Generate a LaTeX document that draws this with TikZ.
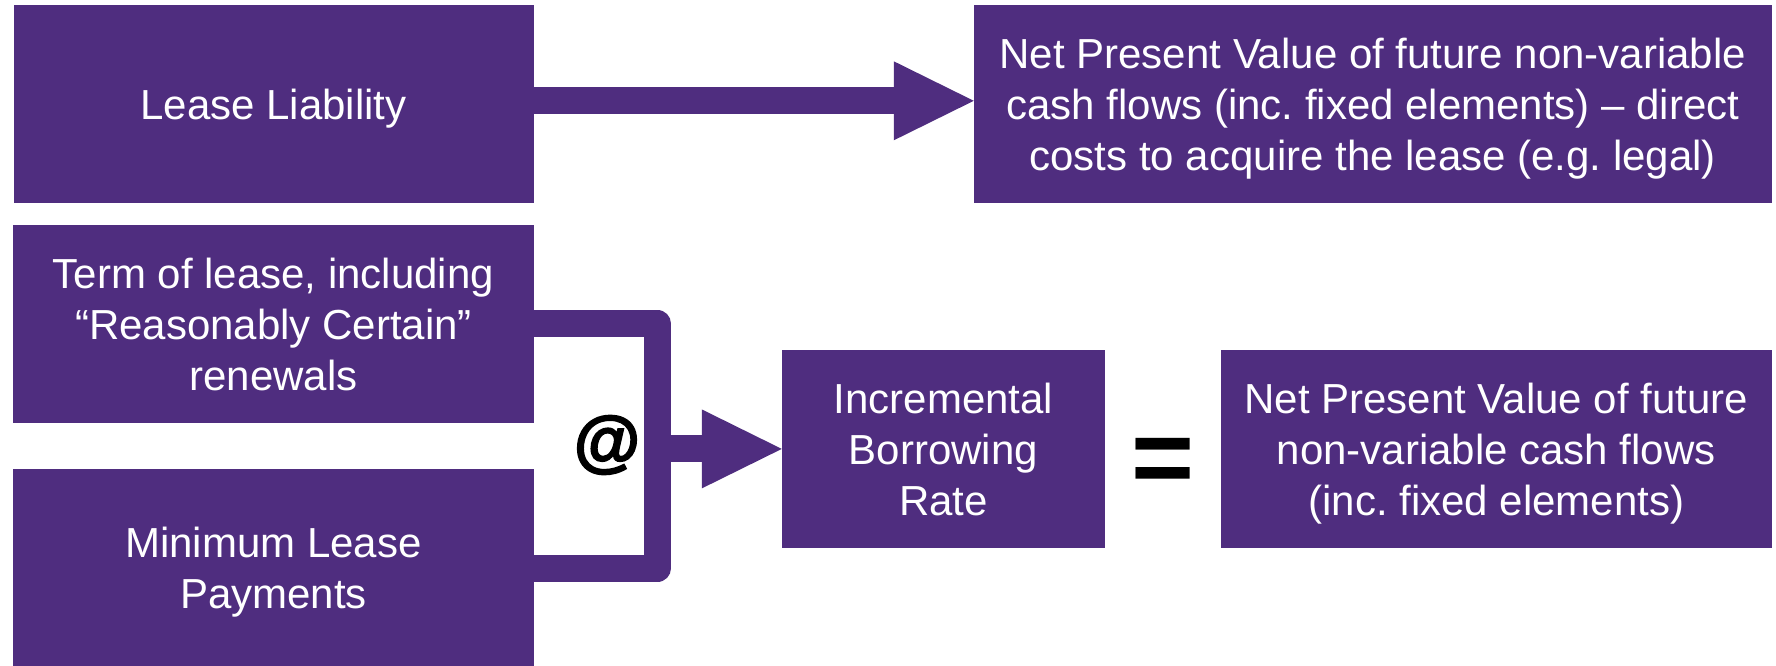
\documentclass[tikz,border=0pt]{standalone}
\usepackage{fontspec}
\setmainfont{Liberation Sans}
\newfontfamily\heavyfont[FakeBold=2.5]{Liberation Sans Bold}
\usetikzlibrary{arrows.meta}
\definecolor{gtpurple}{RGB}{79,45,127}
% line strut: fixes each line's height and depth so lines are centred as in slide text
\newcommand\ls{\rule[-10.3pt]{0pt}{51pt}}
\begin{document}
\frenchspacing
\begin{tikzpicture}[x=1pt,y=-1pt,
  box/.style={fill=gtpurple, text=white, align=center, inner sep=0pt,
    minimum height=197.5pt, font=\fontsize{42}{51}\selectfont},
  flow/.style={draw=gtpurple, line width=27pt,
    -{Triangle[length=80pt,width=79pt,line width=0pt,fill=gtpurple]}},
  bracket/.style={draw=gtpurple, line width=27pt, line join=round},
  sign/.style={text=black, inner sep=0pt}]
\useasboundingbox (0,0) rectangle (1776,665);

% boxes
\node[box, minimum width=520pt] (ll) at (273.5,103.8) {\ls Lease Liability};
\node[box, minimum width=797.6pt] (npv1) at (1372.8,103.8)
  {\ls Net Present Value of future non-variable\\\ls cash flows (inc. fixed elements) – direct\\\ls costs to acquire the lease (e.g. legal)};
\node[box, minimum width=521pt] (term) at (273.5,323.9)
  {\ls Term of lease, including\\\ls “Reasonably Certain”\\\ls renewals};
\node[box, minimum width=521pt] (mlp) at (273.5,568)
  {\ls Minimum Lease\\\ls Payments};
\node[box, minimum width=323pt] (ibr) at (943.5,448.9)
  {\ls Incremental\\\ls Borrowing\\\ls Rate};
\node[box, minimum width=550.6pt] (npv2) at (1496.3,448.9)
  {\ls Net Present Value of future\\\ls non-variable cash flows\\\ls (inc. fixed elements)};

% connectors
\draw[flow] ([yshift=3pt]ll.east) -- ([yshift=3pt]npv1.west);
\coordinate (bend) at ([xshift=123.5pt]term.east);
\draw[bracket] (term.east) -- (bend) |- (mlp.east);
\draw[flow] (bend |- ibr.west) -- (ibr.west);

% signs
\node[sign, font=\fontsize{68}{68}\selectfont\heavyfont] (atsign) at (607,445) {@};
\node[sign, font=\fontsize{108}{108}\selectfont\bfseries, anchor=base] (eq) at (1163,494) {=};
\end{tikzpicture}
\end{document}
